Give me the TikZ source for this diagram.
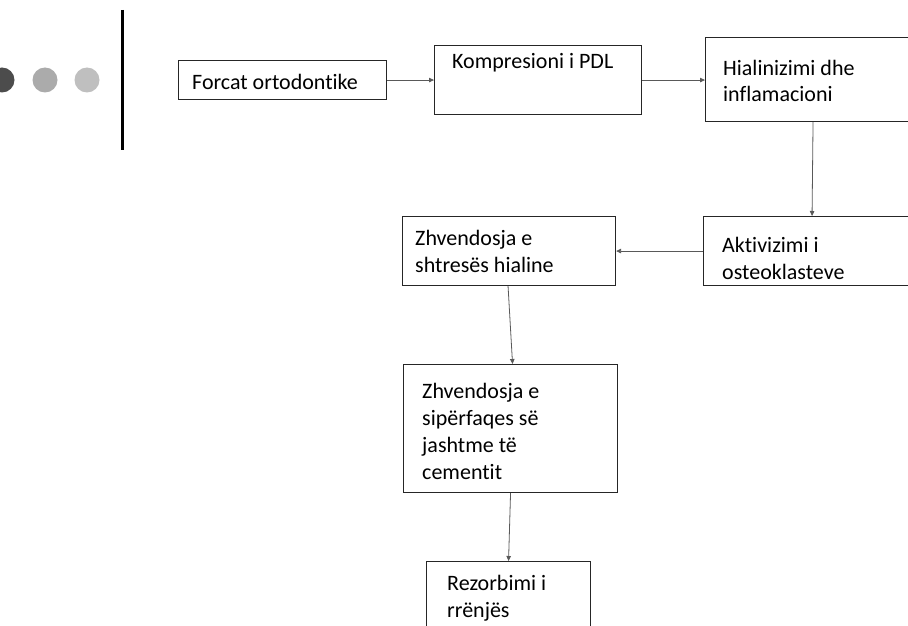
\documentclass[tikz,border=0pt]{standalone}
\usepackage{fontspec}
\setmainfont{Carlito}[Ligatures={NoCommon,NoContextual}]
\usetikzlibrary{arrows.meta,calc,positioning}
\tikzset{
    flow diagram/.style = {x=1pt, y=-1pt, >={Triangle[length=5pt,width=4.5pt]}},
    box/.style          = {draw=black!85, line width=1.1pt, fill=white,
                           anchor=north west, inner sep=0pt},
    txt/.style          = {font=\fontsize{22}{27}\selectfont, inner sep=0pt,
                           anchor=base west, align=flush left},
    link/.style         = {draw=black!65, line width=0.8pt, ->},
    dot/.style          = {circle, inner sep=0pt, minimum size=25pt}
}

\begin{document}
\begin{tikzpicture}[flow diagram]

\useasboundingbox (0,0) rectangle (908,626);
\clip (0,0) rectangle (908,626);

% title bar on the left
\node[dot, fill=black!70] (dotA) at (2,80) {};
\node[dot, fill=black!33] (dotB) at (45,80) {};
\node[dot, fill=black!25] (dotC) at (87,80) {};
\draw[line width=3pt] (122,10) -- (122,150);

% boxes
\node[box, minimum width=208pt, minimum height=39pt] (force) at (178,60) {};
\node[box, minimum width=207pt, minimum height=69pt] (pdl)   at (434,45) {};
\node[box, minimum width=215pt, minimum height=84pt] (hyal)  at (705,37) {};
\node[box, minimum width=217pt, minimum height=69pt] (osteo) at (703,216) {};
\node[box, minimum width=213pt, minimum height=69pt] (layer) at (402,216) {};
\node[box, minimum width=214pt, minimum height=128pt] (cement) at (403,364) {};
\node[box, minimum width=164pt, minimum height=80pt] (root)  at (426,561) {};

% texts
\node[txt] (force-t)  at ($(force.north west)+(14,29)$)  {Forcat ortodontike};
\node[txt] (pdl-t)    at ($(pdl.north west)+(18,24)$)    {Kompresioni i PDL};
\node[txt, text width=180pt] (hyal-t) at ($(hyal.north west)+(18,38)$)
    {Hialinizimi dhe\\inflamacioni};
\node[txt, text width=180pt] (osteo-t) at ($(osteo.north west)+(19,36)$)
    {Aktivizimi i\\osteoklasteve};
\node[txt, text width=190pt] (layer-t) at ($(layer.north west)+(13,29)$)
    {Zhvendosja e\\shtresës hialine};
\node[txt, text width=190pt] (cement-t) at ($(cement.north west)+(19,34)$)
    {Zhvendosja e\\sipërfaqes së\\jashtme të\\cementit};
\node[txt, text width=140pt] (root-t) at ($(root.north west)+(21,29)$)
    {Rezorbimi i\\rrënjës};

% connectors
\draw[link] (force.east) -- (pdl.west);
\draw[link] (pdl.east) -- (hyal.west |- pdl.east);
\draw[link] (hyal.south) -- (osteo.north);
\draw[link] (osteo.west) -- (layer.east);
\draw[link] ($(layer.south)+(-1,0)$) -- ($(cement.north)+(2,0)$);
\draw[link] (cement.south) -- (root.north);

\end{tikzpicture}
\end{document}
